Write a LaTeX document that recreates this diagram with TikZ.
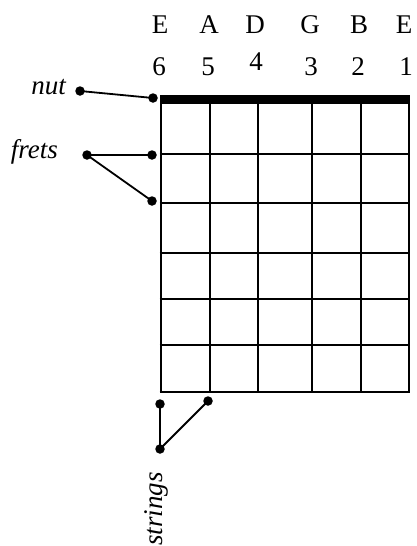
\documentclass[tikz,border=0pt]{standalone}
\usepackage{fontspec}
\setmainfont{Liberation Serif}
\begin{document}
\begin{tikzpicture}[x=1pt,y=-1pt,
  lbl/.style={font=\fontsize{27}{31}\selectfont, inner sep=0pt, anchor=base},
  ital/.style={font=\fontsize{27}{31}\selectfont\itshape, inner sep=0pt},
  fret/.style={line width=2.8pt},
  dot/.style={circle, fill=black, inner sep=0pt, minimum size=9.5pt},
  conn/.style={line width=1.8pt}]
\useasboundingbox (0,0) rectangle (417,546);
% grid
\foreach \x in {161,210,258,312,361,409} \draw[fret] (\x,100) -- (\x,393.4);
\foreach \y in {154,203,253,299,345,392} \draw[fret] (159.6,\y) -- (410.4,\y);
\fill (159.6,95) rectangle (410.4,104);
% string letters and numbers
\node[lbl] (lE6) at (160,33) {E};
\node[lbl] (lA) at (209,33) {A};
\node[lbl] (lD) at (255,33) {D};
\node[lbl] (lG) at (310,33) {G};
\node[lbl] (lB) at (359,33) {B};
\node[lbl] (lE1) at (404,33) {E};
\node[lbl] (n6) at (159,75) {6};
\node[lbl] (n5) at (208,75) {5};
\node[lbl] (n4) at (256,70) {4};
\node[lbl] (n3) at (311,75) {3};
\node[lbl] (n2) at (358,75) {2};
\node[lbl] (n1) at (406,75) {1};
% labels
\node[ital, anchor=base east] (nut) at (66,94) {nut};
\node[ital, anchor=base east] (frets) at (58,158) {frets};
\node[ital, rotate=90, anchor=base east] (strings) at (162,472) {strings};
% dots
\node[dot] (dn1) at (80,91) {};
\node[dot] (dn2) at (153,98) {};
\node[dot] (df0) at (87,155) {};
\node[dot] (df1) at (152,155) {};
\node[dot] (df2) at (152,201) {};
\node[dot] (ds0) at (160,449) {};
\node[dot] (ds1) at (160,404) {};
\node[dot] (ds2) at (208,401) {};
% connectors
\draw[conn] (dn1.center) -- (dn2.center);
\draw[conn] (df0.center) -- (df1.center);
\draw[conn] (df0.center) -- (df2.center);
\draw[conn] (ds0.center) -- (ds1.center);
\draw[conn] (ds0.center) -- (ds2.center);
\end{tikzpicture}
\end{document}
